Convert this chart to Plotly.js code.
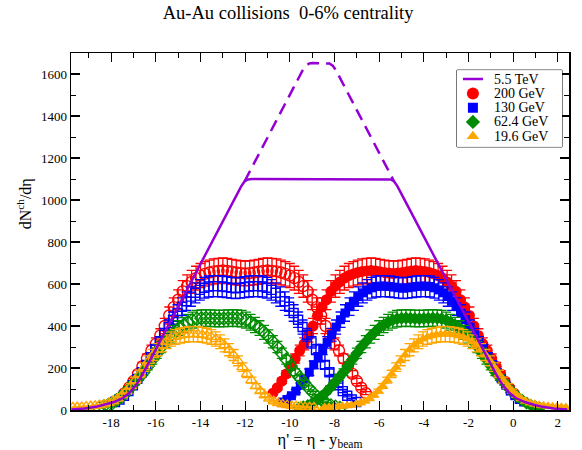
<!DOCTYPE html>
<html><head><meta charset="utf-8">
<script src="https://cdn.plot.ly/plotly-3.0.1.min.js"></script>
<style>html,body{margin:0;padding:0;background:#fff}#plot{width:582px;height:450px}</style>
</head><body><div id="plot"></div>
<script>
// pseudorapidity bin centres (eta)
const eta = [-5.4,-5.2,-5.0,-4.8,-4.6,-4.4,-4.2,-4.0,-3.8,-3.6,-3.4,-3.2,-3.0,-2.8,-2.6,-2.4,-2.2,-2.0,-1.8,-1.6,-1.4,-1.2,-1.0,-0.8,-0.6,-0.4,-0.2,0.0,0.2,0.4,0.6,0.8,1.0,1.2,1.4,1.6,1.8,2.0,2.2,2.4,2.6,2.8,3.0,3.2,3.4,3.6,3.8,4.0,4.2,4.4,4.6,4.8,5.0,5.2,5.4];

const energies = ['200 GeV','130 GeV','62.4 GeV','19.6 GeV'];
const lhcName = '5.5 TeV';
const yBeam = [5.36, 4.93, 4.20, 3.04];
const yBeamLHC = 8.68;

const dNdEta200 = [80,106,138,172,208,245,283,315,355,400,450,490,525,565,590,610,628,640,648,655,660,662,664,662,658,655,652,650,652,655,658,662,664,662,660,655,648,640,628,610,590,565,525,490,450,400,355,315,283,245,208,172,138,106,80];
const dNdEta130 = [38,50,68,90,118,148,180,215,252,288,322,358,395,430,462,492,518,540,558,572,582,588,590,590,588,585,582,580,582,585,588,590,590,588,582,572,558,540,518,492,462,430,395,358,322,288,252,215,180,148,118,90,68,50,38];
const dNdEta62 = [10,15,22,32,46,62,82,105,130,155,180,210,240,270,300,325,350,370,390,405,418,428,435,437,438,437,436,435,436,437,438,437,435,428,418,405,390,370,350,325,300,270,240,210,180,155,130,105,82,62,46,32,22,15,10];
const dNdEta19 = [12,13,14,16,18,20,23,27,33,42,54,70,90,114,142,172,204,234,262,287,308,325,338,348,354,358,361,362,361,358,354,348,338,325,308,287,262,234,204,172,142,114,90,70,54,42,33,27,23,20,18,16,14,13,12];
const seriesValues = [dNdEta200, dNdEta130, dNdEta62, dNdEta19];
const errPercent = [9, 8.5, 9, 10];

// 5.5 TeV extrapolation (eta', dN/deta)
const lhcX = [-19.78,-19.18,-18.68,-18.28,-17.88,-17.48,-17.18,-16.88,-16.58,-16.28,-15.68,-14.68,-13.68,-12.68,-12.18,-12.03,-11.88,-11.68,-5.68,-5.48,-5.33,-5.18,-4.68,-3.68,-2.68,-1.68,-1.08,-0.78,-0.48,-0.18,0.12,0.52,0.92,1.32,1.82,2.42];
const lhcY = [2,7,15,25,38,57,82,120,173,233,355,558,761,964,1065,1088,1098,1100,1100,1098,1088,1065,964,761,558,355,233,173,120,82,57,38,25,15,7,2];
const lhcPeakX = [-12.03,-11.68,-10.68,-9.68,-9.43,-9.28,-9.13,-8.98,-8.68,-8.38,-8.23,-8.08,-7.93,-7.68,-6.68,-5.68,-5.33];
const lhcPeakY = [1088,1160,1363,1566,1617,1640,1650,1652,1652,1652,1650,1640,1617,1566,1363,1160,1088];

const xTicks = [-18,-16,-14,-12,-10,-8,-6,-4,-2,0,2];
const yTicks = [0,200,400,600,800,1000,1200,1400,1600];

const FONT = 'Liberation Serif';
const colors = ['#ff0000','#0000ff','#008b00','#ffa500'];
const symbols = ['circle','square','diamond','triangle-up'];
const sizes = [11,9,10,10];
const violet = '#9400d3';

const traces = [];
seriesValues.forEach((vals, i) => {
  const yb = yBeam[i];
  const xFilled = eta.map(e => e - yb);
  const xOpen = xFilled.map(x => -2 * yBeamLHC - x);
  const err = {type:'percent', value: errPercent[i], color: colors[i], thickness: 1.3, width: 5};
  traces.push({
    x: xOpen, y: vals, type:'scatter', mode:'markers', showlegend:false, hoverinfo:'skip',
    marker:{symbol: symbols[i] + '-open', size: sizes[i], color: colors[i], line:{width:1.4, color: colors[i]}},
    error_y: err
  });
  traces.push({
    x: xFilled, y: vals, type:'scatter', mode:'markers', name: energies[i], showlegend:false,
    marker:{symbol: symbols[i], size: sizes[i], color: colors[i], line:{width:0}},
    error_y: err
  });
});
traces.push({x: lhcPeakX, y: lhcPeakY, type:'scatter', mode:'lines', showlegend:false,
  line:{color: violet, width: 2.5, dash:'12px,7px'}});
traces.push({x: lhcX, y: lhcY, type:'scatter', mode:'lines', name: lhcName, showlegend:false,
  line:{color: violet, width: 2.5}});

// legend keys drawn on an auxiliary (hidden) axis pair laid over the legend box
const legBox = {x0:0.775, x1:0.986, y0:0.737, y1:0.952};
const legRows = [0.883, 0.697, 0.51, 0.325, 0.139];
traces.push({x:[0.057, 0.248], y:[legRows[0], legRows[0]], xaxis:'x2', yaxis:'y2', type:'scatter', mode:'lines',
  showlegend:false, hoverinfo:'skip', line:{color: violet, width: 2.5}});
energies.forEach((name, i) => {
  traces.push({x:[0.152], y:[legRows[i+1]], xaxis:'x2', yaxis:'y2', type:'scatter', mode:'markers',
    showlegend:false, hoverinfo:'skip',
    marker:{symbol: symbols[i], size: sizes[i] + 1, color: colors[i], line:{width:0}}});
});
const legendTexts = [lhcName].concat(energies).map((t, k) => ({
  text: t, xref:'x2', yref:'y2', x:0.33, y:legRows[k], xanchor:'left', yanchor:'middle',
  showarrow:false, font:{family: FONT, size:14, color:'#000'}
}));

const axisCommon = {
  showgrid:false, zeroline:false, showline:true, linecolor:'#000', linewidth:1.5,
  ticks:'inside', ticklen:9, tickwidth:1.2, tickcolor:'#000', mirror:'ticks'
};

const layout = {
  width:582, height:450,
  margin:{l:71, r:13, t:53, b:40},
  paper_bgcolor:'#fff', plot_bgcolor:'#fff',
  font:{family: FONT, color:'#000', size:13},
  showlegend:false,
  title:{text:'Au-Au collisions\u00a0 0-6% centrality', font:{family: FONT, size:18.5, color:'#000'},
    x:0.495, xref:'container', xanchor:'center', y:0.973, yref:'container', yanchor:'middle'},
  xaxis: Object.assign({}, axisCommon, {
    range:[-19.8, 2.5], tickmode:'array', tickvals:xTicks, ticktext:xTicks.map(String),
    tickfont:{family: FONT, size:13, color:'#000'},
    minor:{tickmode:'linear', tick0:0, dtick:1, ticks:'inside', ticklen:5, tickwidth:1, tickcolor:'#000', showgrid:false},
    title:{text:"η' = η - y<sub>beam</sub>", font:{family: FONT, size:16.5, color:'#000'}, standoff:8}
  }),
  yaxis: Object.assign({}, axisCommon, {
    range:[0, 1700], tickmode:'array', tickvals:yTicks, ticktext:yTicks.map(String),
    tickfont:{family: FONT, size:13, color:'#000'},
    minor:{tickmode:'linear', tick0:0, dtick:100, ticks:'inside', ticklen:5, tickwidth:1, tickcolor:'#000', showgrid:false}
  }),
  xaxis2:{domain:[legBox.x0, legBox.x1], range:[0,1], anchor:'y2', visible:false, fixedrange:true},
  yaxis2:{domain:[legBox.y0, legBox.y1], range:[0,1], anchor:'x2', visible:false, fixedrange:true},
  shapes:[{type:'rect', xref:'paper', yref:'paper', x0:legBox.x0, x1:legBox.x1, y0:legBox.y0, y1:legBox.y1,
    line:{color:'#000', width:1}, fillcolor:'#fff', layer:'below'}],
  annotations: legendTexts.concat([{
    text:'dN<sup>ch</sup>/dη', xref:'paper', yref:'paper', x:-0.094, y:0.577, xanchor:'center', yanchor:'middle',
    textangle:-90, showarrow:false, font:{family: FONT, size:16, color:'#000'}
  }])
};

Plotly.newPlot('plot', traces, layout, {staticPlot:true, displayModeBar:false});
</script>
</body></html>
